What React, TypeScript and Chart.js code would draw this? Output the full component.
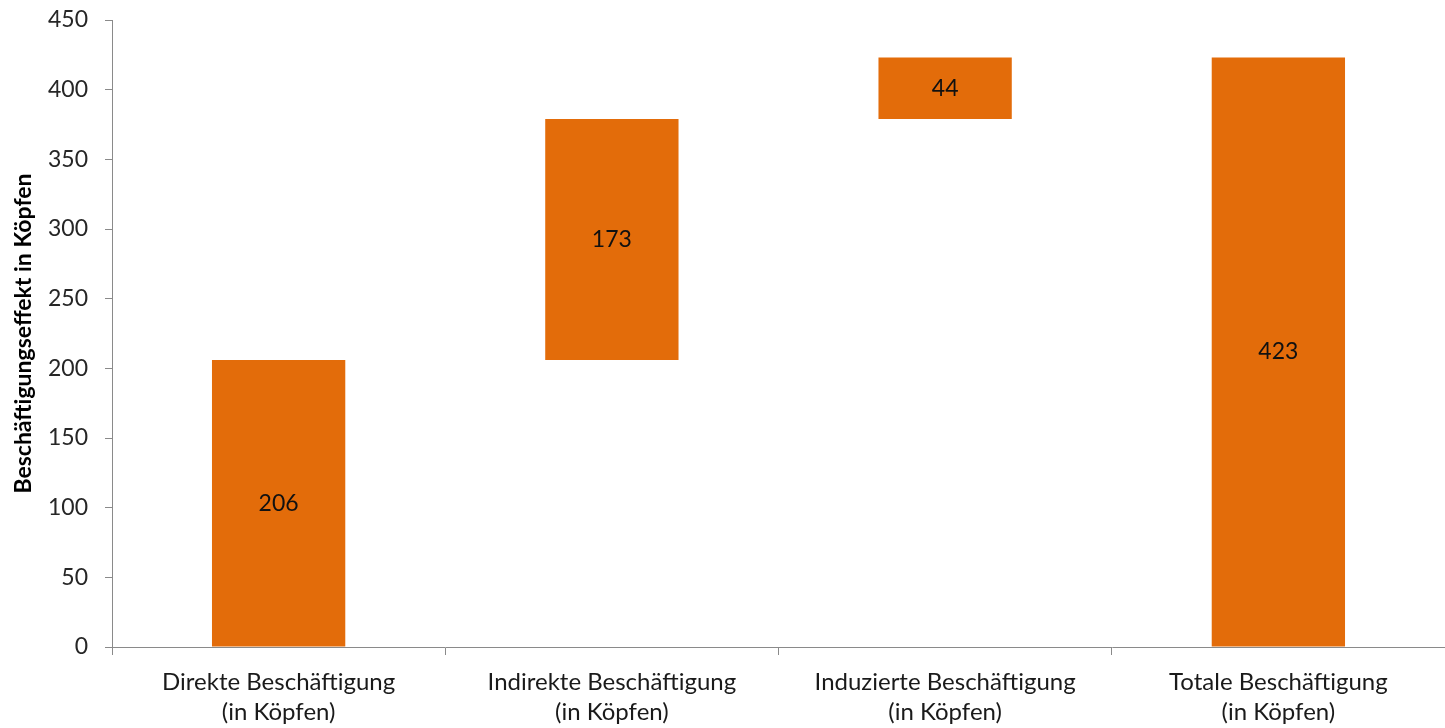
import React, { useEffect, useRef } from "react";
import { Chart, registerables } from "chart.js";

Chart.register(...registerables);

const categories: string[][] = [
  ["Direkte Beschäftigung", "(in Köpfen)"],
  ["Indirekte Beschäftigung", "(in Köpfen)"],
  ["Induzierte Beschäftigung", "(in Köpfen)"],
  ["Totale Beschäftigung", "(in Köpfen)"],
];
const barStart: number[] = [0, 206, 379, 0];
const barEnd: number[] = [206, 379, 423, 423];
const barLabels: string[] = ["206", "173", "44", "423"];
const yTicks = { min: 0, max: 450, step: 50 };
const yTitle = "Beschäftigungseffekt in Köpfen";

const FONT = "Lato, 'Open Sans', sans-serif";
const BAR_COLOR = "#E36C0A";
const AXIS_COLOR = "#8a8a8a";

const labelPlugin = {
  id: "barCenterLabels",
  afterDatasetsDraw(chart: any) {
    const ctx = chart.ctx;
    const meta = chart.getDatasetMeta(0);
    ctx.save();
    ctx.font = `23px ${FONT}`;
    ctx.fillStyle = "#111111";
    ctx.textAlign = "center";
    ctx.textBaseline = "middle";
    meta.data.forEach((el: any, i: number) => {
      const p = el.getProps(["x", "y", "base"], true);
      ctx.fillText(barLabels[i], p.x, (p.y + p.base) / 2);
    });
    ctx.restore();
  },
};

export default function App() {
  const ref = useRef<HTMLCanvasElement | null>(null);

  useEffect(() => {
    if (!ref.current) return;
    const chart = new Chart(ref.current, {
      type: "bar",
      data: {
        labels: categories,
        datasets: [
          {
            data: barStart.map((s, i) => [s, barEnd[i]]) as any,
            backgroundColor: BAR_COLOR,
            borderWidth: 0,
            barPercentage: 0.4,
            categoryPercentage: 1,
          },
        ],
      },
      options: {
        responsive: false,
        animation: false,
        layout: { padding: { top: 20, right: 0, left: 0, bottom: 0 } },
        plugins: {
          legend: { display: false },
          tooltip: { enabled: false },
        },
        scales: {
          x: {
            afterFit: (s: any) => {
              s.height = 81;
            },
            grid: {
              offset: true,
              drawOnChartArea: false,
              drawTicks: true,
              tickLength: 8,
              color: AXIS_COLOR,
            },
            border: { color: AXIS_COLOR, width: 1 },
            ticks: {
              color: "#1a1a1a",
              padding: 12,
              maxRotation: 0,
              font: { family: FONT, size: 24, lineHeight: "30px" as any },
            },
          },
          y: {
            min: yTicks.min,
            max: yTicks.max,
            afterFit: (s: any) => {
              s.width = 112;
              s.paddingTop = 0;
              s.paddingBottom = 0;
            },
            grid: {
              drawOnChartArea: false,
              drawTicks: true,
              tickLength: 7,
              color: AXIS_COLOR,
            },
            border: { color: AXIS_COLOR, width: 1 },
            ticks: {
              stepSize: yTicks.step,
              color: "#262626",
              padding: 17,
              font: { family: FONT, size: 23 },
            },
            title: {
              display: true,
              text: yTitle,
              color: "#000000",
              padding: { top: 10, bottom: 0 },
              font: { family: FONT, size: 23, weight: "bold" },
            },
          },
        },
      },
      plugins: [labelPlugin],
    });
    return () => chart.destroy();
  }, []);

  return (
    <div style={{ position: "absolute", left: 0, top: 0, width: 1445, height: 728, background: "#fff" }}>
      <canvas ref={ref} width={1445} height={728} style={{ display: "block" }} />
    </div>
  );
}
